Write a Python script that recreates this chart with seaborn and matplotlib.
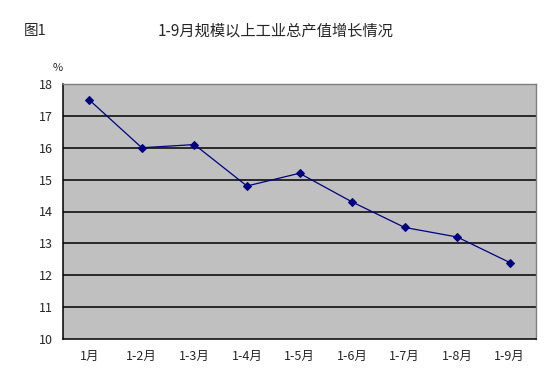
import matplotlib
matplotlib.use("Agg")
import matplotlib.pyplot as plt
import seaborn as sns
import pandas as pd
import numpy as np

categories = ["1月", "1-2月", "1-3月", "1-4月", "1-5月", "1-6月", "1-7月", "1-8月", "1-9月"]
growth = [17.5, 16.0, 16.1, 14.8, 15.2, 14.3, 13.5, 13.2, 12.4]
y_ticks = [10, 11, 12, 13, 14, 15, 16, 17, 18]

sns.set_theme(style="white")
plt.rcParams['font.family'] = ['Noto Sans CJK SC', 'DejaVu Sans']

df = pd.DataFrame({"pos": np.arange(len(categories)), "value": growth})

fig = plt.figure(figsize=(5.52, 3.83), dpi=100)
ax = fig.add_axes([63/552, 44/383, (536-63)/552, (339-84)/383])
ax.set_facecolor("#C0C0C0")

for y in y_ticks[1:-1]:
    ax.axhline(y, color="black", linewidth=1.1, zorder=1)

sns.lineplot(data=df, x="pos", y="value", ax=ax, color="#000080", linewidth=0.9,
             marker="D", markersize=4.5, markeredgecolor="#000080", zorder=3)

ax.set_xlim(-0.5, len(categories) - 0.5)
ax.set_ylim(10, 18)
ax.set_yticks(y_ticks)
ax.set_yticklabels([str(v) for v in y_ticks], fontsize=9)
ax.set_xticks(np.arange(len(categories)))
ax.set_xticklabels(categories, fontsize=9)
ax.set_xticks(np.arange(len(categories) + 1) - 0.5, minor=True)
ax.tick_params(axis="x", which="major", length=0, pad=8)
ax.tick_params(axis="x", which="minor", direction="in", length=3, color="black", width=1)
ax.tick_params(axis="y", length=0, pad=7)
ax.set_xlabel("")
ax.set_ylabel("")

for side in ["left", "bottom"]:
    ax.spines[side].set_color("black")
    ax.spines[side].set_linewidth(1.1)
for side in ["top", "right"]:
    ax.spines[side].set_color("#808080")
    ax.spines[side].set_linewidth(1.0)

fig.text(24/552, 1 - 31/383, "图1", fontsize=10.5, va="center", ha="left")
fig.text(276/552, 1 - 31/383, "1-9月规模以上工业总产值增长情况", fontsize=11, va="center", ha="center")
fig.text(53/552, 1 - 68/383, "%", fontsize=8, va="center", ha="left")

fig.savefig("out.png", dpi=100)
